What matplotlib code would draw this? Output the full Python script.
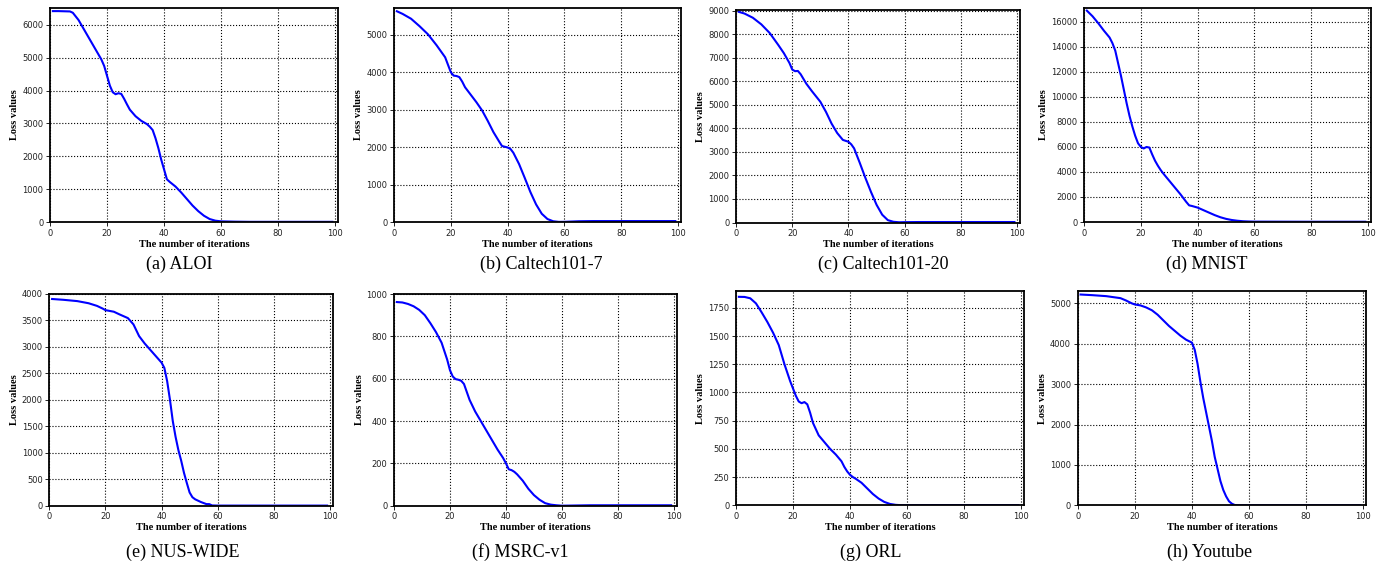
import matplotlib
matplotlib.use("Agg")
import matplotlib.pyplot as plt
import numpy as np

captions = ["(a) ALOI", "(b) Caltech101-7", "(c) Caltech101-20", "(d) MNIST",
            "(e) NUS-WIDE", "(f) MSRC-v1", "(g) ORL", "(h) Youtube"]

x_aloi = [1, 3, 5, 7, 8, 10, 12, 14, 16, 18, 19, 20, 21, 22, 23, 24, 25, 26, 27, 28, 30, 32, 34, 35, 36, 37, 38, 39, 40, 41, 42, 44, 46, 48, 50, 52, 54, 56, 58, 60, 65, 70, 80, 90, 99]
y_aloi = [6420, 6420, 6415, 6410, 6370, 6150, 5850, 5550, 5250, 4950, 4750, 4450, 4150, 3950, 3890, 3920, 3900, 3750, 3580, 3420, 3220, 3080, 2980, 2900, 2800, 2550, 2250, 1900, 1600, 1300, 1220, 1080, 900, 700, 500, 330, 190, 90, 40, 20, 10, 5, 5, 5, 5]

x_c7 = [1, 3, 6, 9, 12, 15, 18, 20, 21, 22, 23, 24, 25, 27, 29, 31, 33, 35, 37, 38, 40, 41, 42, 44, 46, 48, 50, 52, 54, 56, 58, 60, 65, 70, 80, 90, 99]
y_c7 = [5630, 5560, 5430, 5230, 5010, 4720, 4400, 4000, 3910, 3900, 3870, 3750, 3600, 3400, 3200, 2980, 2700, 2400, 2150, 2030, 1990, 1950, 1850, 1550, 1180, 800, 470, 220, 80, 20, 3, 5, 20, 25, 25, 25, 25]

x_c20 = [1, 3, 6, 9, 12, 15, 17, 19, 20, 21, 22, 23, 25, 27, 30, 32, 34, 36, 38, 40, 41, 42, 44, 46, 48, 50, 52, 54, 56, 58, 60, 65, 70, 80, 90, 99]
y_c20 = [8950, 8880, 8700, 8420, 8050, 7550, 7200, 6780, 6500, 6430, 6440, 6300, 5900, 5580, 5130, 4700, 4200, 3800, 3510, 3430, 3320, 3150, 2540, 1900, 1300, 750, 330, 100, 30, 10, 15, 20, 20, 20, 20, 20]

x_mnist = [1, 3, 5, 7, 9, 10, 11, 12, 13, 14, 15, 16, 17, 18, 19, 20, 21, 22, 23, 24, 25, 26, 27, 28, 30, 32, 34, 36, 37, 38, 40, 42, 44, 46, 48, 50, 52, 54, 56, 58, 60, 70, 80, 90, 99]
y_mnist = [16900, 16450, 15900, 15300, 14750, 14300, 13700, 12700, 11700, 10600, 9500, 8500, 7650, 6900, 6300, 6000, 5880, 6000, 5950, 5400, 4900, 4500, 4150, 3850, 3300, 2750, 2200, 1600, 1330, 1280, 1150, 950, 750, 550, 380, 250, 160, 100, 60, 40, 30, 25, 20, 20, 20]

x_nus = [1, 5, 10, 14, 17, 19, 20, 21, 23, 25, 28, 30, 32, 34, 36, 38, 40, 41, 42, 43, 44, 45, 46, 47, 48, 49, 50, 51, 52, 54, 56, 57, 58, 60, 70, 80, 90, 99]
y_nus = [3900, 3885, 3860, 3820, 3770, 3720, 3690, 3680, 3660, 3610, 3540, 3420, 3200, 3060, 2940, 2820, 2700, 2600, 2350, 2000, 1600, 1300, 1050, 850, 620, 430, 250, 160, 120, 70, 30, 30, 5, 2, 2, 2, 2, 2]

x_msrc = [1, 3, 5, 7, 9, 11, 13, 15, 17, 19, 20, 21, 22, 23, 24, 25, 27, 29, 31, 33, 35, 37, 39, 40, 41, 42, 43, 44, 46, 48, 50, 52, 54, 56, 58, 60, 65, 70, 80, 90, 99]
y_msrc = [962, 960, 953, 942, 925, 900, 862, 820, 770, 690, 640, 610, 598, 595, 590, 575, 500, 445, 400, 355, 310, 265, 225, 200, 172, 168, 160, 148, 118, 80, 50, 28, 12, 5, 2, 0, 1, 2, 2, 2, 2]

x_orl = [1, 3, 5, 7, 9, 11, 13, 15, 17, 19, 21, 22, 23, 24, 25, 26, 27, 29, 31, 33, 35, 37, 38, 39, 40, 41, 42, 44, 46, 48, 50, 52, 54, 56, 58, 60, 70, 80, 90, 99]
y_orl = [1848, 1847, 1835, 1790, 1710, 1625, 1530, 1420, 1250, 1100, 970, 920, 905, 915, 895, 820, 730, 620, 560, 500, 450, 390, 340, 300, 270, 250, 235, 200, 150, 100, 60, 30, 12, 4, 1, 1, 2, 2, 2, 2]

x_yt = [1, 5, 10, 15, 17, 19, 20, 22, 24, 26, 28, 30, 32, 34, 36, 38, 40, 41, 42, 43, 44, 45, 46, 47, 48, 49, 50, 51, 52, 53, 54, 55, 56, 60, 70, 80, 90, 99]
y_yt = [5220, 5205, 5180, 5130, 5070, 5000, 4975, 4950, 4900, 4830, 4720, 4580, 4440, 4320, 4200, 4100, 4030, 3850, 3500, 3050, 2650, 2300, 1950, 1600, 1200, 900, 600, 380, 220, 100, 40, 8, 2, 2, 2, 2, 2, 2]

xs = [x_aloi, x_c7, x_c20, x_mnist, x_nus, x_msrc, x_orl, x_yt]
ys = [y_aloi, y_c7, y_c20, y_mnist, y_nus, y_msrc, y_orl, y_yt]

y_tops = [6530, 5730, 9030, 17150, 4000, 1000, 1897, 5300]
y_steps = [1000, 1000, 1000, 2000, 500, 200, 250, 1000]
y_tickmax = [6000, 5000, 9000, 16000, 4000, 1000, 1750, 5000]
x_ticks = [0, 20, 40, 60, 80, 100]

W, H = 1390, 567
# axes boxes in pixels: left, top, right, bottom
boxes = [(50, 7.5, 338, 222), (394, 7.5, 681, 222), (736, 10, 1020, 222.5), (1084, 7.5, 1371, 222),
         (49.3, 293.7, 332.7, 505.7), (394, 294, 676.7, 505.7), (736, 291.3, 1024, 505.3), (1077.7, 291.3, 1366, 505.3)]
cap_pos = [(179, 264), (541, 264), (883, 264), (1207, 264),
           (183, 552), (520, 552), (871, 552), (1210, 552)]

fig = plt.figure(figsize=(W / 100, H / 100), dpi=100)
lab_font = dict(family="Liberation Serif", weight="bold", size=7.5)

for i in range(8):
    l, t, r, b = boxes[i]
    ax = fig.add_axes([l / W, 1 - b / H, (r - l) / W, (b - t) / H])
    ax.plot(xs[i], ys[i], color="#0000ff", lw=1.5)
    ax.set_xlim(0, 101)
    ax.set_ylim(0, y_tops[i])
    ax.set_xticks(x_ticks)
    ax.set_yticks(np.arange(0, y_tickmax[i] + 1, y_steps[i]))
    ax.grid(True, color="black", linestyle=":", linewidth=0.8)
    ax.tick_params(labelsize=6, length=3, width=0.6, pad=1.8, labelcolor="#222222")
    for s in ax.spines.values():
        s.set_linewidth(1.3)
    ax.set_xlabel("The number of iterations", fontdict=lab_font, labelpad=1.5)
    ax.set_ylabel("Loss values", fontdict=lab_font, labelpad=2)
    cx, cy = cap_pos[i]
    fig.text(cx / W, 1 - cy / H, captions[i], ha="center", va="center",
             family="Liberation Serif", size=13)

fig.savefig("out.png", dpi=100)
